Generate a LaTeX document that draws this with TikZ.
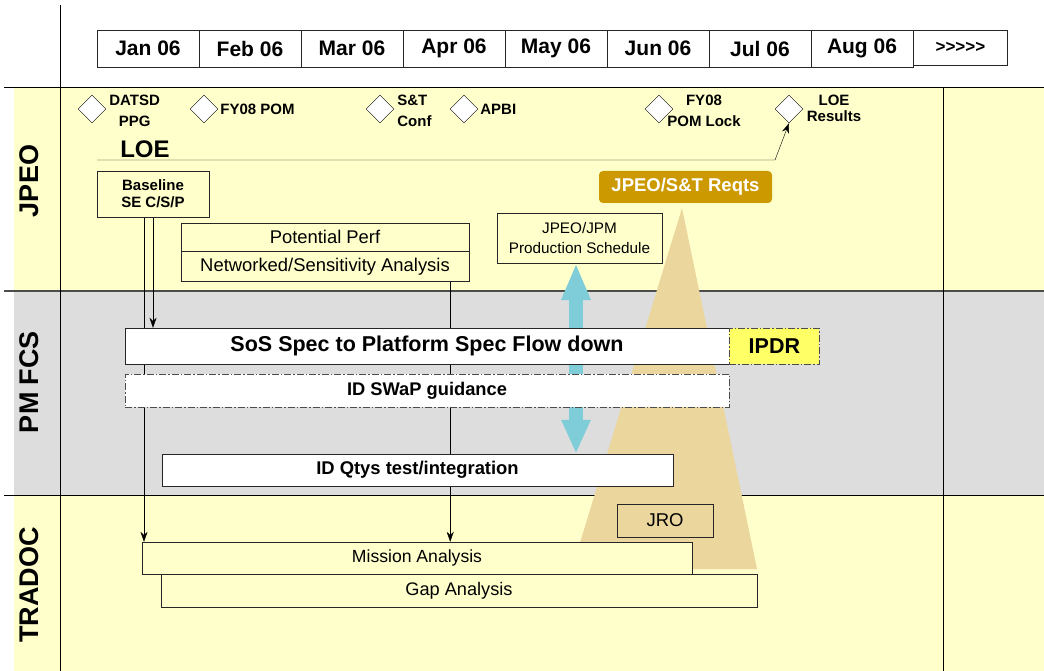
\documentclass[tikz,border=0pt]{standalone}
\usepackage{fontspec}
\setmainfont{Liberation Sans}
\usetikzlibrary{positioning,shapes.geometric,arrows.meta}
\pgfdeclarelayer{back}
\pgfdeclarelayer{middle}
\pgfsetlayers{back,middle,main}
\definecolor{paleyellow}{HTML}{FFFFCC}
\definecolor{bandgray}{HTML}{DDDDDD}
\definecolor{tanwedge}{HTML}{EBD79E}
\definecolor{gold}{HTML}{CC9900}
\definecolor{skyarrow}{HTML}{7FCDD8}
\definecolor{ipdryellow}{HTML}{FFFF66}
\begin{document}
\begin{tikzpicture}
      [x = 1pt, y = -1pt, line width = 1.8pt,
       taskbox/.style = {draw = black!85, inner sep = 0pt, align = center},
       month/.style = {taskbox, fill = white, minimum width = 102pt, minimum height = 37pt,
         font = \bfseries\fontsize{21}{24}\selectfont},
       milestone/.style = {diamond, draw, fill = white, inner sep = 0pt,
         minimum width = 28pt, minimum height = 28pt},
       mslabel/.style = {inner sep = 0pt, align = center, font = \bfseries\fontsize{15}{21}\selectfont},
       bandlabel/.style = {rotate = 90, font = \bfseries\fontsize{27}{30}\selectfont},
       dashdotline/.style = {draw = black!70, dash pattern = on 7pt off 2pt on 1.5pt off 2pt},
       flow/.style = {-{Stealth[length = 10pt, width = 7pt]}}]
      \useasboundingbox (0,0) rectangle (1044,671);
      \begin{pgfonlayer}{back}
        \fill[white] (0,0) rectangle (1044,671);
        \fill[paleyellow] (14,87) rectangle (1044,291);
        \fill[bandgray] (14,291) rectangle (1044,495);
        \fill[paleyellow] (14,495) rectangle (1044,671);
        \draw (4,87) -- (1044,87);
        \draw[black!70, line width = 2.2pt] (4,291) -- (1044,291);
        \draw (4,495) -- (1044,495);
        \draw (60,5) -- (60,671);
        \draw (943,87) -- (943,671);
      \end{pgfonlayer}
      \begin{pgfonlayer}{middle}
        \fill[tanwedge] (682,208) -- (572,569) -- (757,569) -- cycle;
      \end{pgfonlayer}
      \node[bandlabel] (jpeo) at (29,181) {JPEO};
      \node[bandlabel] (pmfcs) at (29,382) {PM FCS};
      \node[bandlabel] (tradoc) at (29,585) {TRADOC};
      \foreach \m [count = \i] in {Jan, Feb, Mar, Apr, May, Jun, Jul, Aug}
        \node[month] (m\i) at (46 + 102*\i, 48.5) {\m\ 06};
      \node[month, anchor = north west, minimum width = 94pt, minimum height = 35pt,
        font = \bfseries\fontsize{17}{20}\selectfont] (more) at (m8.north east)
        {>\kern0pt>\kern0pt>\kern0pt>\kern0pt>};
      \foreach \nm/\x in {datsd/92, pom/204, stconf/380, apbi/464, pomlock/659, loeres/789}
        \node[milestone] (\nm) at (\x, 109) {};
      \node[mslabel, right = 3pt of datsd, yshift = -2pt] (datsdtxt) {DATSD\\PPG};
      \node[mslabel, right = 2pt of pom] (pomtxt) {FY08 POM};
      \node[mslabel, right = 3pt of stconf, yshift = -2pt, align = left] (stconftxt) {S\&T\\Conf};
      \node[mslabel, right = 2pt of apbi] (apbitxt) {APBI};
      \node[mslabel] (pomlocktxt) at (704,111) {FY08\\POM Lock};
      \node[mslabel, font = \bfseries\fontsize{15}{16}\selectfont] (loerestxt) at (834,108) {LOE\\Results};
      \node[anchor = base, inner sep = 0pt, font = \bfseries\fontsize{24}{28}\selectfont] (loe) at (145,158) {LOE};
      \coordinate (loestart) at (97,160);
      \draw[flow] (loestart) -- (775,160) -- (loeres.south);
      \node[taskbox, fill = paleyellow, minimum width = 112pt, minimum height = 46pt,
        font = \bfseries\fontsize{15}{17}\selectfont] (base) at (153,194) {Baseline\\SE C/S/P};
      \node[taskbox, fill = paleyellow, minimum width = 288pt, minimum height = 28pt,
        font = \fontsize{18.4}{20}\selectfont] (perf) at (325,237) {Potential Perf};
      \node[taskbox, fill = paleyellow, minimum width = 288pt, minimum height = 30pt,
        font = \fontsize{18.4}{20}\selectfont, below = 0pt of perf] (netsens) {Networked/Sensitivity Analysis};
      \node[taskbox, fill = paleyellow, minimum width = 165pt, minimum height = 50pt,
        font = \fontsize{15.3}{20}\selectfont] (prodsched) at (579.5,238) {JPEO/JPM\\Production Schedule};
      \node[fill = gold, rounded corners = 4pt, inner sep = 0pt, minimum width = 173pt, minimum height = 32pt,
        text = white, font = \bfseries\fontsize{18.5}{20}\selectfont] (reqts) at (685.5,187) {JPEO/S\&T Reqts};
      \node[taskbox, fill = white, minimum width = 604pt, minimum height = 36pt,
        font = \bfseries\fontsize{21.5}{24}\selectfont] (sos) at (427,346) {SoS Spec to Platform Spec Flow down};
      \node[taskbox, dashdotline, fill = ipdryellow, minimum width = 90pt, minimum height = 36pt,
        font = \bfseries\fontsize{21.5}{24}\selectfont, right = 0pt of sos] (ipdr) {IPDR};
      \node[taskbox, dashdotline, fill = white, minimum width = 604pt, minimum height = 33pt,
        font = \bfseries\fontsize{18.3}{20}\selectfont] (swap) at (427,390.5) {ID SWaP guidance};
      \node[taskbox, fill = white, minimum width = 511pt, minimum height = 32pt,
        font = \bfseries\fontsize{18.4}{20}\selectfont] (qtys) at (417.5,470) {ID Qtys test/integration};
      \node[taskbox, fill = tanwedge, minimum width = 96pt, minimum height = 33pt,
        font = \fontsize{18.5}{20}\selectfont] (jro) at (665,520.5) {JRO};
      \node[taskbox, fill = paleyellow, minimum width = 550pt, minimum height = 32pt,
        font = \fontsize{17.6}{20}\selectfont] (mission) at (417,558) {Mission Analysis};
      \node[taskbox, fill = paleyellow, minimum width = 596pt, minimum height = 33pt,
        font = \fontsize{18.2}{20}\selectfont] (gap) at (459,590.5) {Gap Analysis};
      \begin{pgfonlayer}{middle}
        \draw[flow] (base.south) -- (base.south |- sos.north);
        \draw[flow] ([xshift = -9pt]base.south) -- ([xshift = -9pt]base.south |- mission.north);
        \draw[flow] ([xshift = -19pt]netsens.south east) -- ([xshift = -19pt]netsens.south east |- mission.north);
        \draw[skyarrow, line width = 14pt,
          {Triangle[width = 27pt, length = 37pt]}-{Triangle[width = 27pt, length = 34pt]}]
          ([xshift = -3.5pt]prodsched.south) -- ([xshift = -3.5pt]prodsched.south |- qtys.north);
      \end{pgfonlayer}
    \end{tikzpicture}
\end{document}
